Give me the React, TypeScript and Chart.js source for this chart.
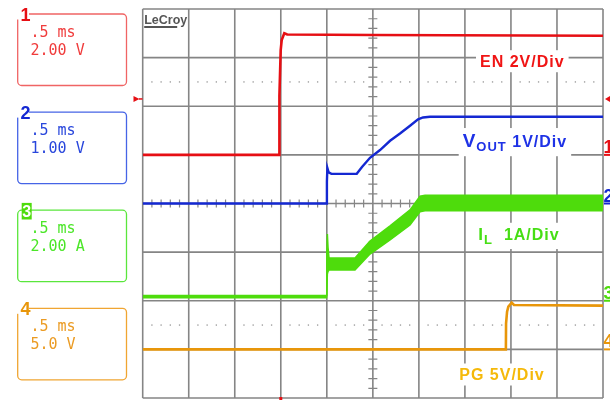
import { useEffect, useRef } from "react";
import { Chart, registerables } from "chart.js";

Chart.register(...registerables);

// ---------------- Data ----------------
// Time base: 0.5 ms/div, 10 divisions -> 0 .. 5 ms
const timeMin = 0;
const timeMax = 5;

// Channel 1: EN (V)
const enTime = [0, 1.483, 1.485, 1.499, 1.51, 1.538, 1.57, 2.5, 5];
const enVolts = [0, 0, 2.43, 4.31, 4.72, 5.0, 4.95, 4.93, 4.9];

// Channel 2: VOUT (V)
const voutTime = [0, 1.998, 2.001, 2.006, 2.02, 2.05, 2.325, 2.382, 2.469, 2.578, 2.687, 2.795, 2.904, 2.991, 3.045, 3.121, 5];
const voutVolts = [0, 0, 0.45, 0.73, 0.64, 0.61, 0.61, 0.75, 0.94, 1.1, 1.29, 1.44, 1.6, 1.73, 1.77, 1.785, 1.785];

// Channel 3: IL (A), ripple envelope (max / min)
const ilTime = [0, 1.998, 2.0, 2.006, 2.013, 2.024, 2.306, 2.469, 2.687, 2.904, 3.012, 3.067, 5];
const ilMax = [0.11, 0.11, 1.0, 1.37, 1.1, 0.88, 0.88, 1.23, 1.54, 1.87, 2.15, 2.17, 2.17];
const ilMin = [0.06, 0.06, 0.06, 0.55, 0.6, 0.63, 0.63, 0.96, 1.25, 1.56, 1.83, 1.85, 1.85];

// Channel 4: PG (V)
const pgTime = [0, 3.945, 3.947, 3.958, 3.972, 4.008, 4.033, 5];
const pgVolts = [0, 0, 2.68, 3.87, 4.39, 4.8, 4.56, 4.5];

// Channel settings
const channelNumbers = ["1", "2", "3", "4"];
const channelTimebase = [".5 ms", ".5 ms", ".5 ms", ".5 ms"];
const channelScale = ["2.00 V", "1.00 V", "2.00 A", "5.0 V"];
const channelPerDiv = [2, 1, 1, 5];
const channelGroundDiv = [1, 0, -2, -3];
const triggerLevel = 2.3; // V on EN
const triggerTime = 1.5; // ms

// Trace annotations
const traceLabels = [
  [{ text: "EN 2V/Div", size: 16, dy: 0 }],
  [
    { text: "V", size: 19, dy: 0 },
    { text: "OUT", size: 13, dy: 4 },
    { text: " 1V/Div", size: 16, dy: 0 },
  ],
  [
    { text: "I", size: 17, dy: 0 },
    { text: "L", size: 13, dy: 3.5 },
    { text: "  1A/Div", size: 16, dy: 0 },
  ],
  [{ text: "PG 5V/Div", size: 16, dy: 0 }],
];
const labelAnchorTime = [3.664, 3.476, 3.646, 3.439];
const labelAnchorDiv = [2.813, 1.168, -0.751, -3.63];

// Colours
const traceColors = ["#e60f14", "#1428d2", "#4edc0c", "#e8960a"];
const boxColors = ["#f06464", "#4664e6", "#5ae63c", "#f0a532"];
const boxTextColors = ["#f03c3c", "#2846dc", "#4be628", "#eb9b23"];
const labelColors = ["#f01414", "#1e32e6", "#46de14", "#f5b90a"];
const GRID = "#858585";
const SANS = "'Liberation Sans', Arial, sans-serif";

function roundRectPath(ctx: any, x: number, y: number, w: number, h: number, r: number) {
  ctx.beginPath();
  ctx.moveTo(x + r, y);
  ctx.lineTo(x + w - r, y);
  ctx.arcTo(x + w, y, x + w, y + r, r);
  ctx.lineTo(x + w, y + h - r);
  ctx.arcTo(x + w, y + h, x + w - r, y + h, r);
  ctx.lineTo(x + r, y + h);
  ctx.arcTo(x, y + h, x, y + h - r, r);
  ctx.lineTo(x, y + r);
  ctx.arcTo(x, y, x + r, y, r);
  ctx.closePath();
}

const scopePlugin = {
  id: "scope",
  beforeDatasetsDraw(chart: any) {
    const { ctx, chartArea: a, scales } = chart;
    const xs = scales.x;
    const ys = scales.yVOUT; // 1 V = 1 division
    const X = (d: number) => xs.getPixelForValue(d * 0.5);
    const Y = (d: number) => ys.getPixelForValue(d);
    ctx.save();
    // major grid
    ctx.strokeStyle = GRID;
    ctx.lineWidth = 1.6;
    ctx.beginPath();
    for (let i = 0; i <= 10; i++) {
      const x = X(i);
      ctx.moveTo(x, a.top);
      ctx.lineTo(x, a.bottom);
    }
    for (let j = -4; j <= 4; j++) {
      const y = Y(j);
      ctx.moveTo(a.left, y);
      ctx.lineTo(a.right, y);
    }
    ctx.stroke();
    // minor ticks on centre cross
    ctx.lineWidth = 1.2;
    ctx.beginPath();
    const cx = X(5);
    const cy = Y(0);
    for (let k = 1; k < 40; k++) {
      if (k % 5 === 0) continue;
      const y = Y(-4 + k * 0.2);
      ctx.moveTo(cx - 4.5, y);
      ctx.lineTo(cx + 4.5, y);
    }
    for (let k = 1; k < 50; k++) {
      if (k % 5 === 0) continue;
      const x = X(k * 0.2);
      ctx.moveTo(x, cy - 4);
      ctx.lineTo(x, cy + 4);
    }
    ctx.stroke();
    // dotted lines
    ctx.fillStyle = "#959595";
    for (const lv of [2.5, -2.5]) {
      const y = Y(lv);
      for (let k = 1; k < 50; k++) {
        if (k % 5 === 0) continue;
        const x = X(k * 0.2);
        ctx.fillRect(x - 0.65, y - 0.65, 1.3, 1.3);
      }
    }
    // logo
    ctx.fillStyle = "#555555";
    ctx.font = `bold 12.5px ${SANS}`;
    ctx.textBaseline = "alphabetic";
    ctx.textAlign = "left";
    ctx.fillText("LeCroy", a.left + 1.5, a.top + 14.5);
    ctx.fillRect(a.left + 1.5, a.top + 17, 33, 2);

    // trace annotations
    ctx.letterSpacing = "1px";
    traceLabels.forEach((segs, i) => {
      const x0 = xs.getPixelForValue(labelAnchorTime[i]);
      const y0 = ys.getPixelForValue(labelAnchorDiv[i]);
      let w = 0;
      let maxSize = 0;
      let maxDy = 0;
      const widths = segs.map((s) => {
        ctx.font = `bold ${s.size}px ${SANS}`;
        const m = ctx.measureText(s.text).width;
        w += m;
        maxSize = Math.max(maxSize, s.size);
        maxDy = Math.max(maxDy, s.dy);
        return m;
      });
      ctx.fillStyle = "#ffffff";
      const top = y0 - maxSize * 0.72 - 5;
      const bottom = y0 + maxDy + 5.5;
      ctx.fillRect(x0 - 4, top, w + 8, bottom - top);
      ctx.fillStyle = labelColors[i];
      let x = x0;
      segs.forEach((s, k) => {
        ctx.font = `bold ${s.size}px ${SANS}`;
        ctx.fillText(s.text, x, y0 + s.dy);
        x += widths[k];
      });
    });
    ctx.letterSpacing = "0px";
    ctx.restore();
  },
  afterDraw(chart: any) {
    const { ctx, chartArea: a, scales } = chart;
    const xs = scales.x;
    const ys = scales.yVOUT;
    ctx.save();
    ctx.textBaseline = "alphabetic";
    // channel boxes on the left
    for (let i = 0; i < 4; i++) {
      const top = 14 + i * 98.1;
      const left = 17.7;
      ctx.strokeStyle = boxColors[i];
      ctx.lineWidth = 1.3;
      roundRectPath(ctx, left, top, 108.8, 71.5, 4);
      ctx.stroke();
      if (i === 2) {
        ctx.fillStyle = traceColors[i];
        ctx.fillRect(21.7, top - 7.3, 10, 16.6);
        ctx.fillStyle = "#ffffff";
        ctx.font = `bold 16px ${SANS}`;
        ctx.textAlign = "center";
        ctx.fillText(channelNumbers[i], 26.7, top + 6.8);
      } else {
        ctx.fillStyle = "#ffffff";
        ctx.fillRect(15, top - 3, 14, 8.5);
        ctx.fillStyle = traceColors[i];
        ctx.font = `bold 18px ${SANS}`;
        ctx.textAlign = "left";
        ctx.fillText(channelNumbers[i], 20.5, top + 6.7);
      }
      ctx.textAlign = "left";
      ctx.font = "15px 'DejaVu Sans Mono', monospace";
      ctx.fillStyle = boxTextColors[i];
      ctx.fillText(channelTimebase[i], 30.5, top + 23);
      ctx.fillText(channelScale[i], 30.5, top + 40.6);
    }
    // ground markers at right
    ctx.font = `bold 18px ${SANS}`;
    ctx.textAlign = "left";
    for (let i = 0; i < 4; i++) {
      const gy = ys.getPixelForValue(channelGroundDiv[i]);
      ctx.fillStyle = traceColors[i];
      ctx.fillText(channelNumbers[i], 603.5, gy - 2);
      ctx.fillRect(604, gy - 1, 6, 2);
    }
    // trigger level markers
    const ty = scales.yEN.getPixelForValue(triggerLevel);
    ctx.fillStyle = traceColors[0];
    ctx.beginPath();
    ctx.moveTo(133.5, ty - 3);
    ctx.lineTo(139.5, ty);
    ctx.lineTo(133.5, ty + 3);
    ctx.closePath();
    ctx.fill();
    ctx.fillRect(139, ty - 0.75, 3.5, 1.5);
    ctx.beginPath();
    ctx.moveTo(610, ty - 3);
    ctx.lineTo(605, ty);
    ctx.lineTo(610, ty + 3);
    ctx.closePath();
    ctx.fill();
    // trigger time marker
    const tx = xs.getPixelForValue(triggerTime);
    ctx.fillRect(tx - 1.5, a.bottom - 1, 3, 3);
    ctx.restore();
  },
};

const pts = (t: number[], v: number[]) => t.map((x, i) => ({ x, y: v[i] }));

export default function App() {
  const ref = useRef<HTMLCanvasElement>(null);
  useEffect(() => {
    const canvas = ref.current;
    if (!canvas) return;
    const ranges = channelPerDiv.map((p, i) => ({
      min: (-4 - channelGroundDiv[i]) * p,
      max: (4 - channelGroundDiv[i]) * p,
    }));
    const common = { pointRadius: 0, tension: 0, borderJoinStyle: "miter" as const };
    const chart = new Chart(canvas, {
      type: "line",
      data: {
        datasets: [
          { label: "EN", data: pts(enTime, enVolts), yAxisID: "yEN", borderColor: traceColors[0], borderWidth: 2.6, fill: false, ...common },
          { label: "VOUT", data: pts(voutTime, voutVolts), yAxisID: "yVOUT", borderColor: traceColors[1], borderWidth: 2.4, fill: false, ...common },
          { label: "IL max", data: pts(ilTime, ilMax), yAxisID: "yIL", borderColor: traceColors[2], borderWidth: 1.5, fill: false, ...common },
          { label: "IL min", data: pts(ilTime, ilMin), yAxisID: "yIL", borderColor: traceColors[2], borderWidth: 1.5, backgroundColor: traceColors[2], fill: "-1", ...common },
          { label: "PG", data: pts(pgTime, pgVolts), yAxisID: "yPG", borderColor: traceColors[3], borderWidth: 2.6, fill: false, ...common },
        ],
      },
      options: {
        responsive: false,
        animation: false,
        devicePixelRatio: 1,
        events: [],
        layout: { padding: { left: 142.7, right: 7, top: 9, bottom: 2 } },
        plugins: { legend: { display: false }, tooltip: { enabled: false }, title: { display: false } },
        scales: {
          x: { type: "linear", min: timeMin, max: timeMax, display: false },
          yEN: { type: "linear", min: ranges[0].min, max: ranges[0].max, display: false },
          yVOUT: { type: "linear", min: ranges[1].min, max: ranges[1].max, display: false },
          yIL: { type: "linear", min: ranges[2].min, max: ranges[2].max, display: false },
          yPG: { type: "linear", min: ranges[3].min, max: ranges[3].max, display: false },
        },
      },
      plugins: [scopePlugin],
    } as any);
    return () => chart.destroy();
  }, []);
  return (
    <div style={{ position: "fixed", left: 0, top: 0, width: 610, height: 400, background: "#ffffff" }}>
      <canvas ref={ref} width={610} height={400} style={{ display: "block", width: 610, height: 400 }} />
    </div>
  );
}
